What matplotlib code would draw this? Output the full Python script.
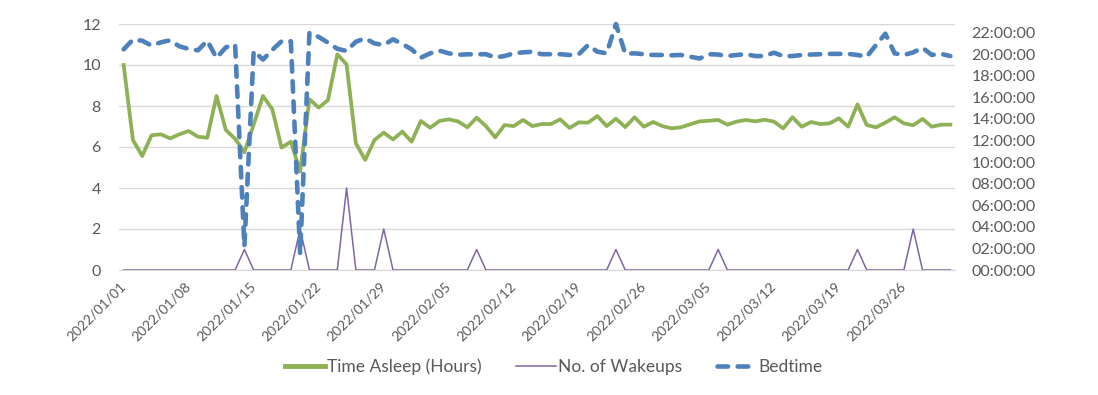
import numpy as np
import pandas as pd
import matplotlib
matplotlib.use("Agg")
import matplotlib.pyplot as plt
from matplotlib.lines import Line2D

plt.rcParams['font.family'] = ['Lato', 'DejaVu Sans']

# daily records, 2022/01/01 .. 2022/03/31
dates = pd.date_range('2022-01-01', periods=90, freq='D')

sleep_hours = [
    10.0, 6.34, 5.56, 6.57, 6.62, 6.42, 6.62, 6.78, 6.5, 6.45,
    8.49, 6.83, 6.4, 5.74, 7.1, 8.49, 7.84, 5.97, 6.26, 4.8,
    8.33, 7.92, 8.29, 10.52, 10.03, 6.18, 5.37, 6.34, 6.7, 6.37,
    6.75, 6.26, 7.27, 6.94, 7.27, 7.35, 7.25, 6.96, 7.43, 7.02,
    6.47, 7.07, 7.02, 7.32, 7.02, 7.12, 7.12, 7.35, 6.93, 7.2,
    7.19, 7.51, 7.02, 7.38, 6.97, 7.45, 6.99, 7.22, 7.02, 6.91,
    6.96, 7.11, 7.25, 7.28, 7.32, 7.09, 7.24, 7.32, 7.25, 7.33,
    7.24, 6.91, 7.45, 6.99, 7.22, 7.12, 7.15, 7.4, 6.99, 8.08,
    7.07, 6.96, 7.19, 7.45, 7.15, 7.06, 7.37, 6.99, 7.09, 7.09,
]

wakeups = [
    0, 0, 0, 0, 0, 0, 0, 0, 0, 0,
    0, 0, 0, 1, 0, 0, 0, 0, 0, 2,
    0, 0, 0, 0, 4, 0, 0, 0, 2, 0,
    0, 0, 0, 0, 0, 0, 0, 0, 1, 0,
    0, 0, 0, 0, 0, 0, 0, 0, 0, 0,
    0, 0, 0, 1, 0, 0, 0, 0, 0, 0,
    0, 0, 0, 0, 1, 0, 0, 0, 0, 0,
    0, 0, 0, 0, 0, 0, 0, 0, 0, 1,
    0, 0, 0, 0, 0, 2, 0, 0, 0, 0,
]

# bedtime in hours of the day
bedtime = [
    20.45, 21.35, 21.25, 20.8, 21.1, 21.29, 20.73, 20.49, 20.36, 21.26,
    19.65, 20.64, 20.89, 2.2, 20.3, 19.5, 20.4, 21.2, 21.2, 1.5,
    22.0, 21.6, 21.07, 20.5, 20.3, 21.16, 21.47, 21.0, 20.85, 21.38,
    20.95, 20.45, 19.68, 20.08, 20.33, 20.08, 19.95, 19.99, 19.99, 20.0,
    19.7, 19.83, 20.08, 20.17, 20.23, 20.0, 20.0, 20.0, 19.93, 20.0,
    20.85, 20.23, 20.08, 22.8, 20.05, 20.08, 20.0, 19.93, 19.93, 19.9,
    19.93, 19.77, 19.6, 20.0, 19.97, 19.83, 19.93, 20.0, 19.83, 19.83,
    20.14, 19.83, 19.83, 19.93, 19.97, 20.0, 20.03, 20.03, 20.03, 19.93,
    19.77, 20.85, 21.9, 20.08, 19.93, 20.17, 20.6, 19.93, 20.03, 19.83,
]

green = '#8fb156'
purple = '#7f66a0'
blue = '#4e80bc'
text_col = '#595959'
grid_col = '#d9d9d9'

x = np.arange(len(dates))

fig = plt.figure(figsize=(10.98, 3.95), dpi=100)
ax = fig.add_axes([119 / 1098, 1 - 270 / 395, (955 - 119) / 1098, (270 - 24) / 395])
ax2 = ax.twinx()

ax.plot(x, sleep_hours, color=green, lw=2.7, solid_joinstyle='round', zorder=3)
ax.plot(x, wakeups, color=purple, lw=1.1, zorder=4)
ax2.plot(x, bedtime, color=blue, lw=3.3, linestyle=(0, (2.3, 2.1)),
         dash_capstyle='round', solid_joinstyle='round', clip_on=False)

ax.set_xlim(-0.5, len(x) - 0.5)
ax.set_ylim(0, 12)
ax.set_yticks(np.arange(0, 13, 2))
ax.grid(axis='y', color=grid_col, lw=1)
ax.set_axisbelow(True)

ax2.set_ylim(0, 22.8)
hrs = np.arange(0, 23, 2)
ax2.set_yticks(hrs)
ax2.set_yticklabels([f'{h:02d}:00:00' for h in hrs])

tick_pos = x[::7]
ax.set_xticks(tick_pos)
ax.set_xticklabels([d.strftime('%Y/%m/%d') for d in dates[::7]],
                   rotation=45, ha='right', va='center', rotation_mode='anchor')

for a in (ax, ax2):
    for s in a.spines.values():
        s.set_visible(False)
    a.tick_params(length=0, colors=text_col)
ax.spines['bottom'].set_visible(True)
ax.spines['bottom'].set_color(grid_col)
ax.tick_params(axis='y', labelsize=11.5, pad=13)
ax.tick_params(axis='x', labelsize=10, pad=10)
ax2.tick_params(axis='y', labelsize=11.5, pad=12)

handles = [
    Line2D([], [], color=green, lw=3.5),
    Line2D([], [], color=purple, lw=1.1),
    Line2D([], [], color=blue, lw=3.3, linestyle=(0, (2.3, 2.1)), dash_capstyle='round'),
]
fig.legend(handles, ['Time Asleep (Hours)', 'No. of Wakeups', 'Bedtime'],
           loc='center', bbox_to_anchor=(554 / 1098, 1 - 367 / 395), ncol=3,
           frameon=False, fontsize=12.5, labelcolor=text_col,
           handlelength=2.3, handletextpad=0.1, columnspacing=2.0)

fig.savefig('out.png', dpi=100)
